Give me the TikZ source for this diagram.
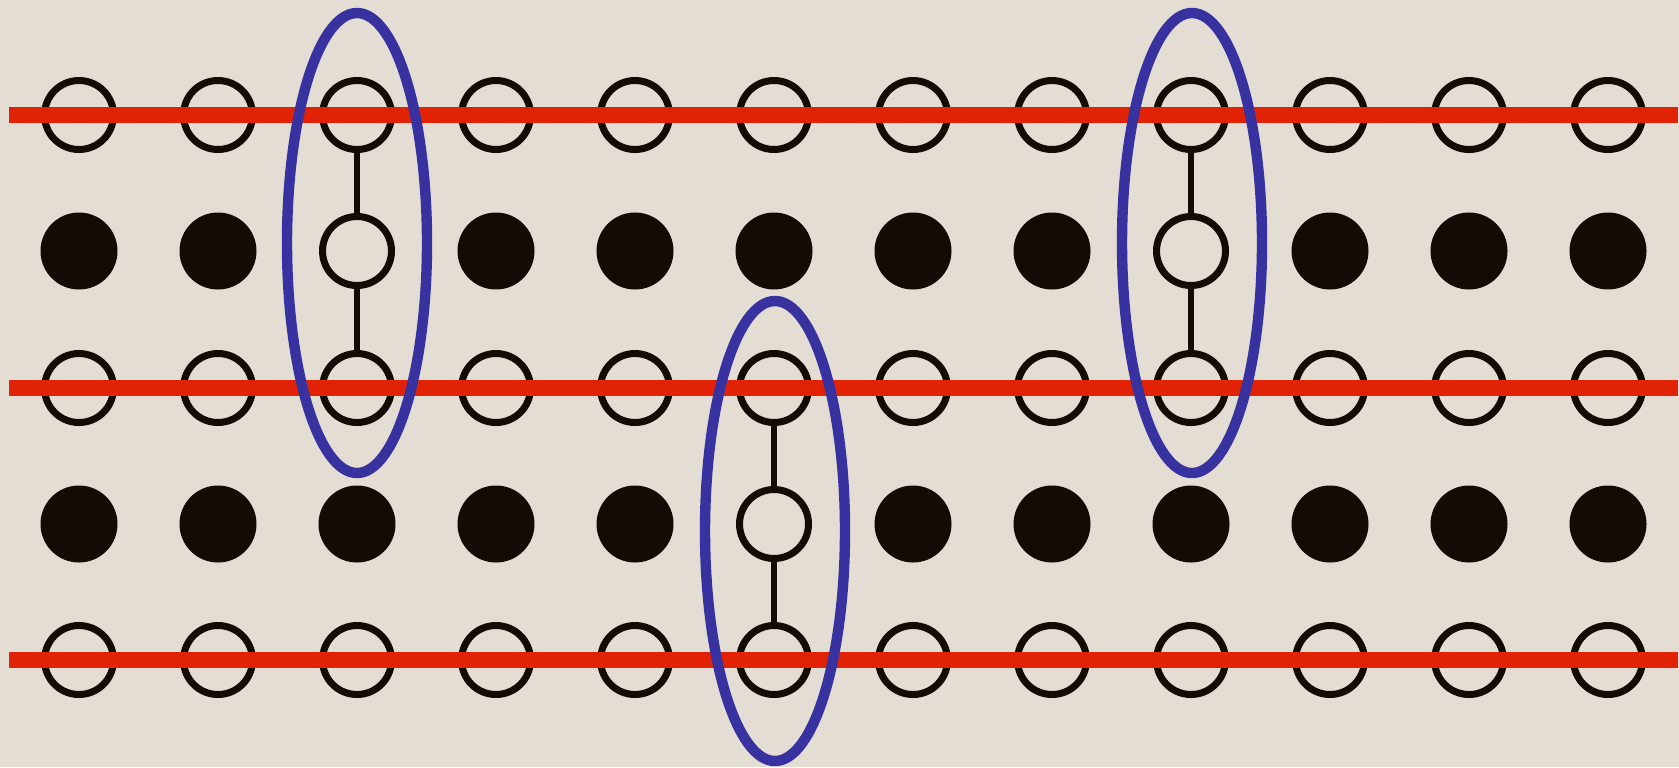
\documentclass[tikz,border=0pt]{standalone}
\usetikzlibrary{shapes.geometric}
\definecolor{bgc}{RGB}{227,221,211}
\definecolor{redl}{RGB}{226,34,4}
\definecolor{bluel}{RGB}{55,50,160}
\definecolor{dotc}{RGB}{18,11,6}
\begin{document}
\begin{tikzpicture}[x=0.5pt,y=-0.5pt,
  opencirc/.style={circle,draw=dotc,line width=3.5pt,inner sep=0pt,minimum size=34.5pt},
  fullcirc/.style={circle,fill=dotc,inner sep=0pt,minimum size=38.5pt},
  redline/.style={draw=redl,line width=8pt},
  bond/.style={draw=dotc,line width=2.6pt},
  loop/.style={ellipse,draw=bluel,line width=5.2pt,inner sep=0pt,minimum width=70pt,minimum height=230pt}]
\fill[bgc] (0,0) rectangle (1679,767);
\useasboundingbox (0,0) rectangle (1679,767);
% rows: 1,3,5 open; 2,4 filled except specials
\foreach \r/\y in {1/115,3/388,5/660}{
  \foreach \c in {1,...,12}{
    \node[opencirc] (n-\r-\c) at ({79+139*(\c-1)},\y) {};
  }
}
\foreach \r/\y in {2/251,4/524}{
  \foreach \c in {1,...,12}{
    \pgfmathtruncatemacro{\isopen}{(\r==2 && (\c==3 || \c==9)) || (\r==4 && \c==6) ? 1 : 0}
    \ifnum\isopen=1
      \node[opencirc] (n-\r-\c) at ({79+139*(\c-1)},\y) {};
    \else
      \node[fullcirc] (n-\r-\c) at ({79+139*(\c-1)},\y) {};
    \fi
  }
}
% bonds
\draw[bond] (n-1-3) -- (n-2-3);
\draw[bond] (n-2-3) -- (n-3-3);
\draw[bond] (n-1-9) -- (n-2-9);
\draw[bond] (n-2-9) -- (n-3-9);
\draw[bond] (n-3-6) -- (n-4-6);
\draw[bond] (n-4-6) -- (n-5-6);
% red lines
\coordinate (l1) at (9,115); \coordinate (r1) at (1678,115);
\coordinate (l3) at (9,388); \coordinate (r3) at (1678,388);
\coordinate (l5) at (9,660); \coordinate (r5) at (1678,660);
\draw[redline] (l1) -- (r1);
\draw[redline] (l3) -- (r3);
\draw[redline] (l5) -- (r5);
% blue ellipses
\node[loop] (e1) at (357,243) {};
\node[loop] (e2) at (775,531) {};
\node[loop] (e3) at (1192,243) {};
\end{tikzpicture}
\end{document}
